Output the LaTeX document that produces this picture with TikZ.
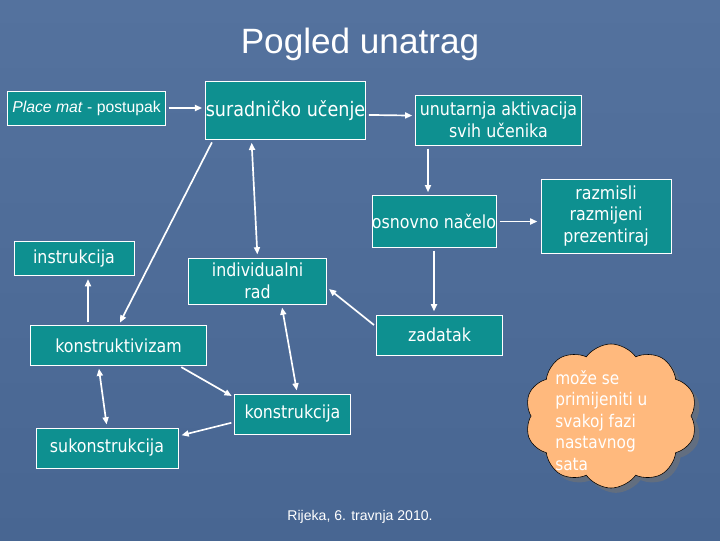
\documentclass[tikz,border=0pt]{standalone}
\usepackage{fontspec}
\setmainfont{Liberation Sans}
\newfontfamily\boxfont[FakeStretch=0.88]{DejaVu Sans}
\usetikzlibrary{arrows.meta,shapes.symbols,shadows}
\definecolor{slidetop}{RGB}{84,114,158}
\definecolor{slidebot}{RGB}{72,102,146}
\definecolor{tealbox}{RGB}{14,144,144}
\definecolor{cloudfill}{RGB}{255,185,125}

\begin{document}
\begin{tikzpicture}[x=0.025cm, y=-0.025cm,
    >={Triangle[length=0.18cm,width=0.15cm]},
    box/.style={draw=white, line width=0.6pt, fill=tealbox, text=white, align=center,
      inner sep=0pt, font=\boxfont\fontsize{12.8}{15.5}\selectfont},
    arr/.style={draw=white, line width=1.2pt, shorten <=0.08cm, shorten >=0.08cm}]
  % background of the slide
  \shade[top color=slidetop, bottom color=slidebot] (0,0) rectangle (720,540);
  \useasboundingbox (0,0) rectangle (720,540);

  \node[text=white, font=\fontsize{25}{30}\selectfont] (title) at (360,44) {Pogled unatrag};
  \node[text=white, font=\fontsize{10}{12}\selectfont] (date) at (360,517) {Rijeka, 6. travnja 2010.};

  % boxes
  \node[box, font=\fontsize{11.2}{13}\selectfont, minimum width=3.93cm, minimum height=0.85cm] (place) at (86.5,108) {\textit{Place mat} - postupak};
  \node[box, font=\boxfont\fontsize{14.2}{17}\selectfont, minimum width=3.98cm, minimum height=1.43cm] (sur) at (285.5,110.5) {suradničko učenje};
  \node[box, minimum width=4.13cm, minimum height=1.25cm] (unut) at (498.5,120) {unutarnja aktivacija\\svih učenika};
  \node[box, minimum width=3.1cm, minimum height=1.28cm] (osn) at (434,221.5) {osnovno načelo};
  \node[box, minimum width=3.25cm, minimum height=1.85cm] (razm) at (606,216) {razmisli\\razmijeni\\prezentiraj};
  \node[box, minimum width=3cm, minimum height=0.85cm] (instr) at (74,258.5) {instrukcija};
  \node[box, minimum width=3.43cm, minimum height=1.15cm] (indiv) at (257.5,281) {individualni\\rad};
  \node[box, minimum width=3.13cm, minimum height=1cm] (zad) at (439.5,335) {zadatak};
  \node[box, minimum width=4.38cm, minimum height=0.98cm] (konz) at (118.5,345.5) {konstruktivizam};
  \node[box, minimum width=2.88cm, minimum height=1cm] (kon) at (292.5,414) {konstrukcija};
  \node[box, minimum width=3.55cm, minimum height=1cm] (sukon) at (107,448) {sukonstrukcija};

  % cloud note
  \node[cloud, cloud puffs=10, cloud puff arc=110, aspect=1.2, draw=black, fill=cloudfill,
    minimum width=4.3cm, minimum height=3.6cm,
    drop shadow={shadow xshift=0.12cm, shadow yshift=-0.12cm, fill=black!55, opacity=0.6}] (cloud) at (611,416) {};
  \node[anchor=north west, text=white, align=left, inner sep=0pt,
    font=\boxfont\fontsize{12.4}{15.3}\selectfont] (note) at (555,370) {može se\\primijeniti u\\svakoj fazi\\nastavnog\\sata};

  % connectors
  \draw[arr, ->] (place.east) -- (place.east -| sur.west);
  \draw[arr, ->] ([yshift=-0.11cm]sur.east) -- ([yshift=0.11cm]unut.west);
  \draw[arr, ->] ([xshift=-0.15cm]osn.north |- unut.south) -- ([xshift=-0.15cm]osn.north);
  \draw[arr, ->] (osn.east) -- (osn.east -| razm.west);
  \draw[arr, ->] (osn.south) -- (osn.south |- zad.north);
  \draw[arr, ->] ([yshift=0.2cm]zad.west) -- ([yshift=-0.15cm]indiv.east);
  \draw[arr, <->] ([xshift=-0.85cm]sur.south) -- (indiv.north);
  \draw[arr, ->] ([xshift=0.2cm]sur.south west) -- (konz.north);
  \draw[arr, ->] ([xshift=0.35cm]instr.south |- konz.north) -- ([xshift=0.35cm]instr.south);
  \draw[arr, <->] ([xshift=-0.5cm]konz.south) -- (sukon.north);
  \draw[arr, ->] ([xshift=-0.7cm]konz.south east) -- ([yshift=-0.1cm]kon.north west);
  \draw[arr, ->] ([yshift=-0.2cm]kon.west) -- ([yshift=0.3cm]sukon.east);
  \draw[arr, <->] ([xshift=0.6cm]indiv.south) -- ([xshift=0.12cm]kon.north);
\end{tikzpicture}
\end{document}
